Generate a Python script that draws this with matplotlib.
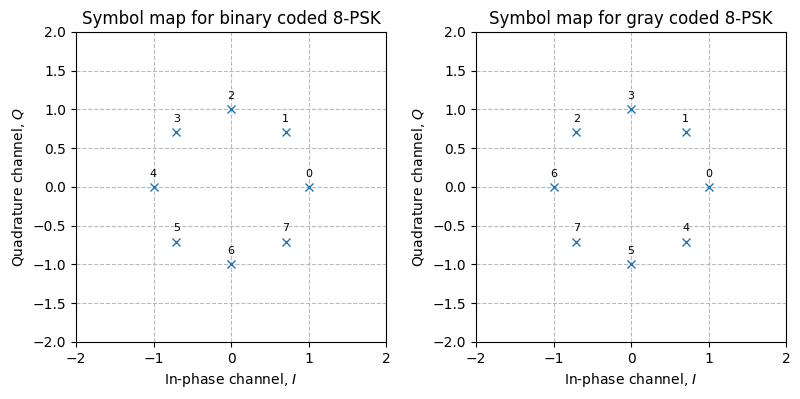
import matplotlib
matplotlib.use("Agg")
import matplotlib.pyplot as plt

# symbol coordinates
i_vals = [1.0, 0.707, 0.0, -0.707, -1.0, -0.707, 0.0, 0.707]
q_vals = [0.0, 0.707, 1.0, 0.707, 0.0, -0.707, -1.0, -0.707]

binary_labels = [0, 1, 2, 3, 4, 5, 6, 7]
gray_labels = [0, 1, 3, 2, 6, 7, 5, 4]

titles = ["Symbol map for binary coded 8-PSK", "Symbol map for gray coded 8-PSK"]
yticks = [-2, -1.5, -1, -0.5, 0, 0.5, 1, 1.5, 2]
xticks = [-2, -1, 0, 1, 2]

fig = plt.figure(figsize=(8, 3.99), dpi=100)
ax1 = fig.add_axes([0.095, 0.1429, 0.3875, 0.7769])
ax2 = fig.add_axes([0.595, 0.1429, 0.3875, 0.7769])

for ax, title, labels in zip([ax1, ax2], titles, [binary_labels, gray_labels]):
    ax.plot(i_vals, q_vals, 'x', color='#1f77b4', markersize=6)
    for x, y, lab in zip(i_vals, q_vals, labels):
        ax.annotate(str(lab), (x, y), xytext=(0, 6), textcoords='offset points',
                    ha='center', va='bottom', fontsize=8)
    ax.set_xlim(-2, 2)
    ax.set_ylim(-2, 2)
    ax.set_xticks(xticks)
    ax.set_yticks(yticks)
    ax.grid(True, linestyle='--', color='#bbbbbb')
    ax.set_axisbelow(True)
    ax.set_title(title)
    ax.set_xlabel('In-phase channel, $I$')
    ax.set_ylabel('Quadrature channel, $Q$')

plt.savefig("out.png", dpi=100)
